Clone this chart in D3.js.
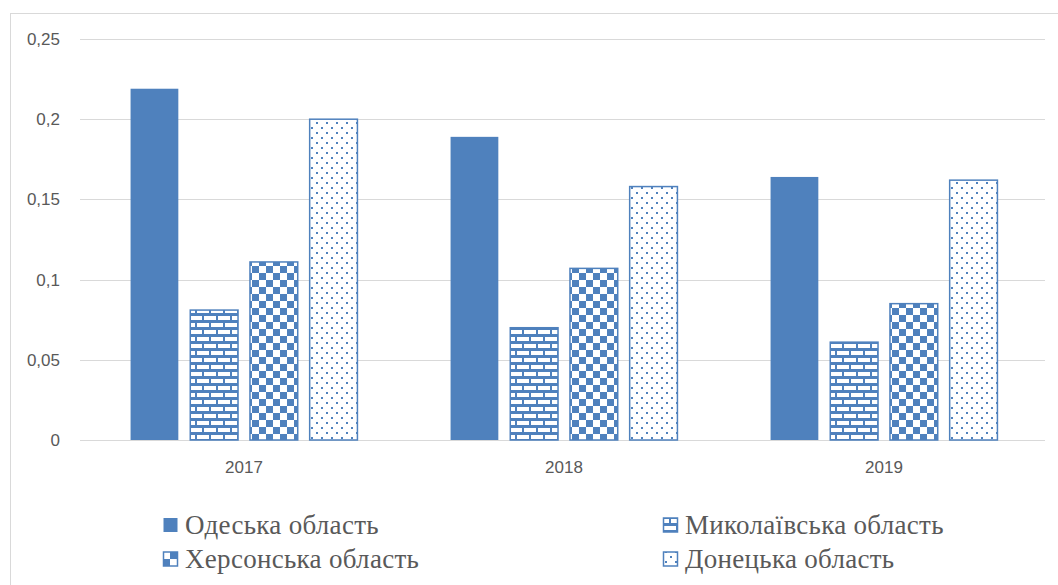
<!DOCTYPE html>
<html>
<head>
<meta charset="utf-8">
<script src="https://cdn.jsdelivr.net/npm/d3@7"></script>
<style>
  body { margin: 0; background: #fff; }
  svg { display: block; }
</style>
</head>
<body>
<script>
// data
var years = ["2017", "2018", "2019"];
var regions = ["Одеська область", "Миколаївська область", "Херсонська область", "Донецька область"];
var odesa = [0.219, 0.189, 0.164];
var mykolaiv = [0.081, 0.070, 0.061];
var kherson = [0.111, 0.107, 0.085];
var donetsk = [0.200, 0.158, 0.162];
var yTicks = [0, 0.05, 0.1, 0.15, 0.2, 0.25];

var series = [odesa, mykolaiv, kherson, donetsk];
var blue = "#4F81BD";

var width = 1058, height = 585;
var svg = d3.select("body").append("svg")
  .attr("width", width)
  .attr("height", height);

// patterns
var defs = svg.append("defs");

var brick = defs.append("pattern")
  .attr("id", "brick")
  .attr("patternUnits", "userSpaceOnUse")
  .attr("width", 14).attr("height", 14);
brick.append("rect").attr("width", 14).attr("height", 14).attr("fill", blue);
brick.append("rect").attr("x", 1).attr("y", 1).attr("width", 12).attr("height", 4).attr("fill", "#fff");
brick.append("rect").attr("x", -6).attr("y", 8).attr("width", 12).attr("height", 4).attr("fill", "#fff");
brick.append("rect").attr("x", 8).attr("y", 8).attr("width", 12).attr("height", 4).attr("fill", "#fff");

var checker = defs.append("pattern")
  .attr("id", "checker")
  .attr("patternUnits", "userSpaceOnUse")
  .attr("width", 14).attr("height", 14);
checker.append("rect").attr("width", 14).attr("height", 14).attr("fill", "#fff");
checker.append("rect").attr("width", 7).attr("height", 7).attr("fill", blue);
checker.append("rect").attr("x", 7).attr("y", 7).attr("width", 7).attr("height", 7).attr("fill", blue);

var dots = defs.append("pattern")
  .attr("id", "dots")
  .attr("patternUnits", "userSpaceOnUse")
  .attr("width", 10).attr("height", 10);
dots.append("rect").attr("width", 10).attr("height", 10).attr("fill", "#fff");
dots.append("rect").attr("x", 2).attr("y", 2).attr("width", 2).attr("height", 2).attr("fill", blue);
dots.append("rect").attr("x", 7).attr("y", 7).attr("width", 2).attr("height", 2).attr("fill", blue);

var fills = [blue, "url(#brick)", "url(#checker)", "url(#dots)"];

// chart frame
svg.append("rect")
  .attr("x", 10.5).attr("y", 13.5)
  .attr("width", 1070).attr("height", 600)
  .attr("fill", "none")
  .attr("stroke", "#D9D9D9");

var y = d3.scaleLinear().domain([0, 0.25]).range([440, 39]);
var x0 = d3.scaleBand().domain(years).range([84, 1044]);
var x1 = d3.scaleBand().domain(d3.range(4)).range([0, 320]).paddingInner(0.2).paddingOuter(0.78);

// gridlines
svg.append("g").selectAll("line")
  .data(yTicks)
  .enter().append("line")
  .attr("x1", 80).attr("x2", 1045)
  .attr("y1", function(d){ return Math.round(y(d)) + 0.5; })
  .attr("y2", function(d){ return Math.round(y(d)) + 0.5; })
  .attr("stroke", "#D9D9D9")
  .attr("stroke-width", 1);

// y tick labels
svg.append("g").selectAll("text")
  .data(yTicks)
  .enter().append("text")
  .attr("x", 60)
  .attr("y", function(d){ return y(d) + 6; })
  .attr("text-anchor", "end")
  .attr("font-family", "'Liberation Sans', sans-serif")
  .attr("font-size", 17)
  .attr("fill", "#595959")
  .text(function(d){ return d3.format("")(d).replace(".", ","); });

// bars
var groups = svg.append("g").selectAll("g")
  .data(years)
  .enter().append("g")
  .attr("transform", function(d){ return "translate(" + x0(d) + ",0)"; });

groups.selectAll("rect")
  .data(function(d, i){ return series.map(function(s, k){ return {k: k, v: s[i]}; }); })
  .enter().append("rect")
  .attr("x", function(d){ return x1(d.k); })
  .attr("y", function(d){ return y(d.v); })
  .attr("width", x1.bandwidth())
  .attr("height", function(d){ return y(0) - y(d.v); })
  .attr("fill", function(d){ return fills[d.k]; })
  .attr("stroke", function(d){ return d.k == 0 ? "none" : blue; })
  .attr("stroke-width", 1.5);

// x labels
svg.append("g").selectAll("text")
  .data(years)
  .enter().append("text")
  .attr("x", function(d){ return x0(d) + x0.bandwidth() / 2; })
  .attr("y", 473)
  .attr("text-anchor", "middle")
  .attr("font-family", "'Liberation Sans', sans-serif")
  .attr("font-size", 17)
  .attr("fill", "#595959")
  .text(function(d){ return d; });

// legend
var legPos = [[163, 525], [663, 525], [163, 559], [663, 559]];
var leg = svg.append("g").selectAll("g")
  .data(regions)
  .enter().append("g")
  .attr("transform", function(d, i){ return "translate(" + legPos[i][0] + "," + legPos[i][1] + ")"; });

leg.append("rect")
  .attr("x", 0.5).attr("y", -7)
  .attr("width", 14).attr("height", 14)
  .attr("fill", function(d, i){ return fills[i]; })
  .attr("stroke", function(d, i){ return i == 0 ? "none" : blue; })
  .attr("stroke-width", 1.5);

leg.append("text")
  .attr("x", 22)
  .attr("y", 9)
  .attr("font-family", "'Liberation Serif', 'Times New Roman', serif")
  .attr("font-size", 27)
  .attr("letter-spacing", 0.3)
  .attr("fill", "#595959")
  .text(function(d){ return d; });
</script>
</body>
</html>
